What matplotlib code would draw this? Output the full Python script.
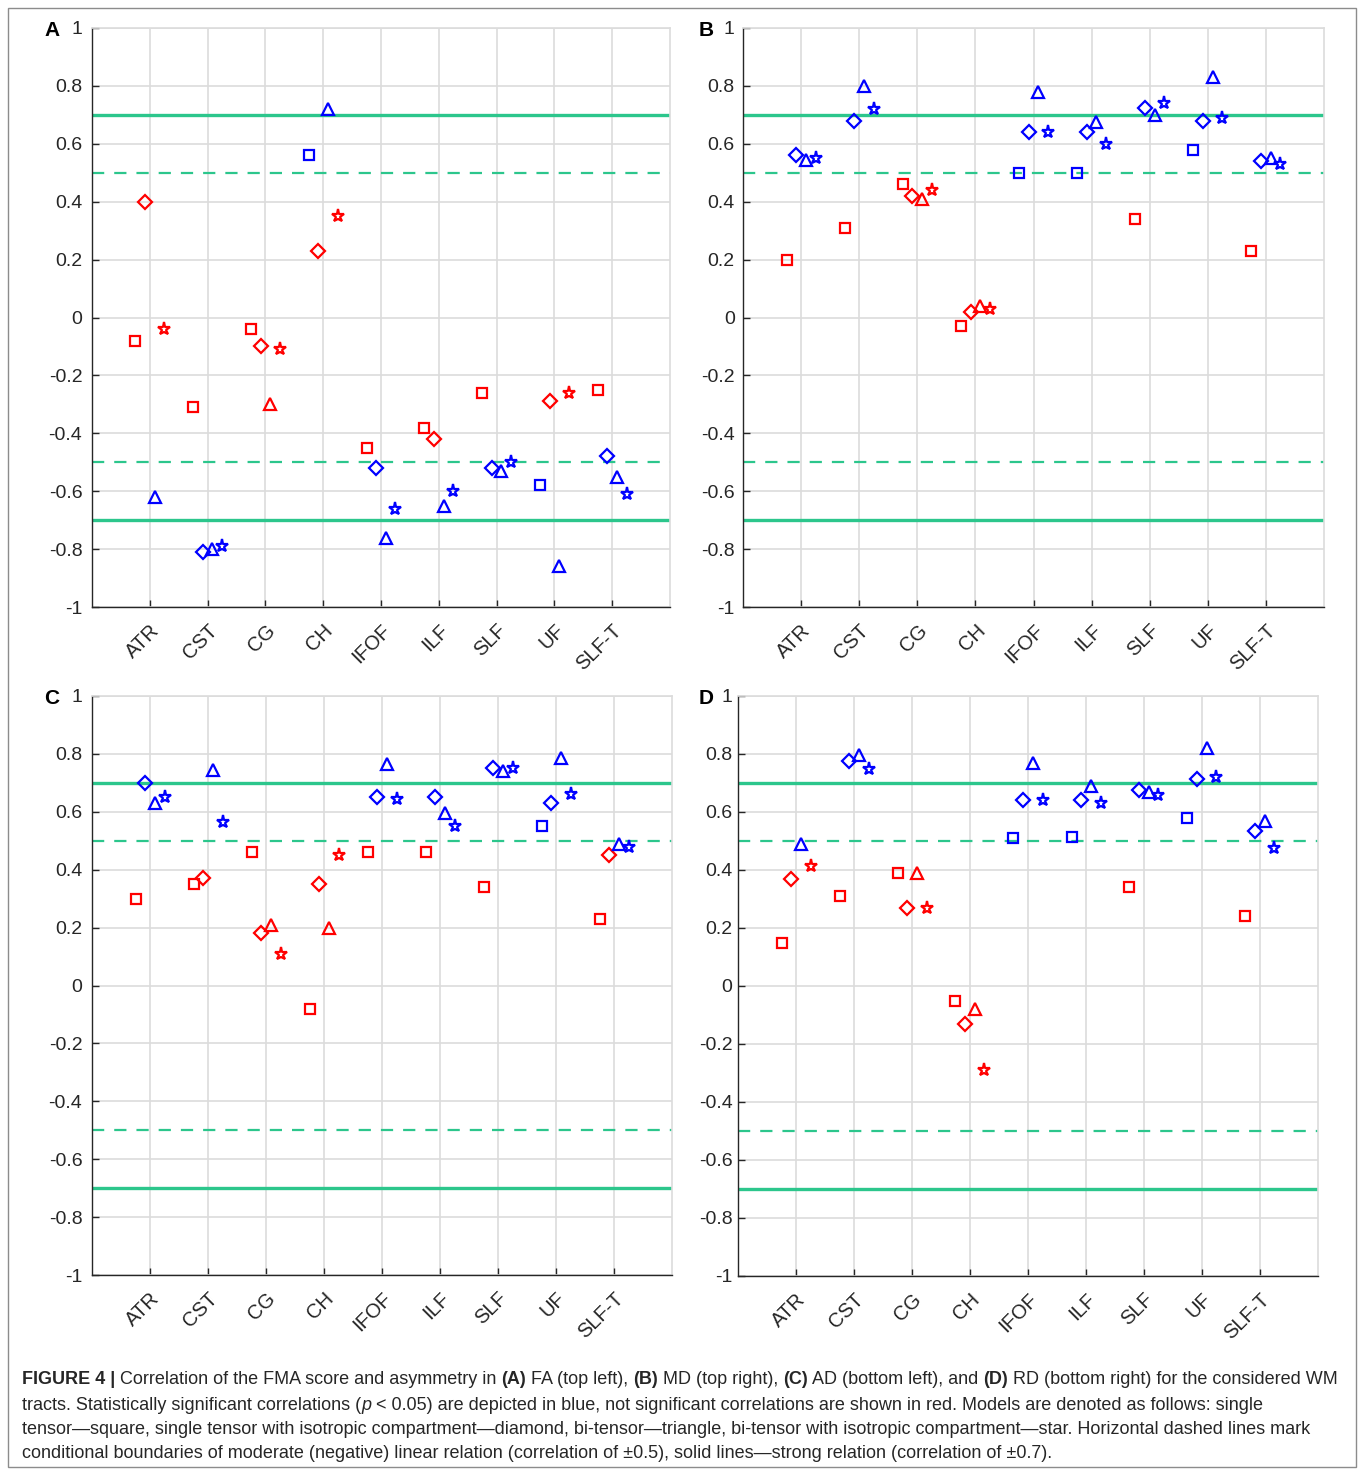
import matplotlib
matplotlib.use("Agg")
import matplotlib.pyplot as plt
from matplotlib import font_manager
from matplotlib.patches import Rectangle
import numpy as np

plt.rcParams['font.family'] = ['Liberation Sans', 'DejaVu Sans']
plt.rcParams['axes.unicode_minus'] = False

tracts = ['ATR', 'CST', 'CG', 'CH', 'IFOF', 'ILF', 'SLF', 'UF', 'SLF-T']
models = ['square', 'diamond', 'triangle', 'star']
model_offsets = [-0.25, -0.083, 0.083, 0.25]
model_markers = ['s', 'D', '^', '*']
model_sizes = [7, 6.8, 8, 9.5]

# Panel A: FA
fa_square   = [-0.08, -0.31, -0.04, 0.56, -0.45, -0.38, -0.26, -0.58, -0.25]
fa_diamond  = [0.40, -0.81, -0.10, 0.23, -0.52, -0.42, -0.52, -0.29, -0.48]
fa_triangle = [-0.62, -0.80, -0.30, 0.72, -0.76, -0.65, -0.53, -0.86, -0.55]
fa_star     = [-0.04, -0.79, -0.11, 0.35, -0.66, -0.60, -0.50, -0.26, -0.61]
fa_sig_square   = [0, 0, 0, 1, 0, 0, 0, 1, 0]
fa_sig_diamond  = [0, 1, 0, 0, 1, 0, 1, 0, 1]
fa_sig_triangle = [1, 1, 0, 1, 1, 1, 1, 1, 1]
fa_sig_star     = [0, 1, 0, 0, 1, 1, 1, 0, 1]

# Panel B: MD
md_square   = [0.20, 0.31, 0.46, -0.03, 0.50, 0.50, 0.34, 0.58, 0.23]
md_diamond  = [0.56, 0.68, 0.42, 0.02, 0.64, 0.64, 0.725, 0.68, 0.54]
md_triangle = [0.545, 0.80, 0.41, 0.04, 0.78, 0.675, 0.70, 0.83, 0.55]
md_star     = [0.55, 0.72, 0.44, 0.03, 0.64, 0.60, 0.74, 0.69, 0.53]
md_sig_square   = [0, 0, 0, 0, 1, 1, 0, 1, 0]
md_sig_diamond  = [1, 1, 0, 0, 1, 1, 1, 1, 1]
md_sig_triangle = [1, 1, 0, 0, 1, 1, 1, 1, 1]
md_sig_star     = [1, 1, 0, 0, 1, 1, 1, 1, 1]

# Panel C: AD
ad_square   = [0.30, 0.35, 0.46, -0.08, 0.46, 0.46, 0.34, 0.55, 0.23]
ad_diamond  = [0.70, 0.37, 0.18, 0.35, 0.65, 0.65, 0.75, 0.63, 0.45]
ad_triangle = [0.63, 0.745, 0.21, 0.20, 0.765, 0.595, 0.74, 0.785, 0.49]
ad_star     = [0.65, 0.565, 0.11, 0.45, 0.645, 0.55, 0.75, 0.66, 0.48]
ad_sig_square   = [0, 0, 0, 0, 0, 0, 0, 1, 0]
ad_sig_diamond  = [1, 0, 0, 0, 1, 1, 1, 1, 0]
ad_sig_triangle = [1, 1, 0, 0, 1, 1, 1, 1, 1]
ad_sig_star     = [1, 1, 0, 0, 1, 1, 1, 1, 1]

# Panel D: RD
rd_square   = [0.15, 0.31, 0.39, -0.05, 0.51, 0.515, 0.34, 0.58, 0.24]
rd_diamond  = [0.37, 0.775, 0.27, -0.13, 0.64, 0.64, 0.675, 0.715, 0.535]
rd_triangle = [0.49, 0.795, 0.39, -0.08, 0.77, 0.69, 0.67, 0.82, 0.57]
rd_star     = [0.415, 0.75, 0.27, -0.29, 0.64, 0.63, 0.66, 0.72, 0.475]
rd_sig_square   = [0, 0, 0, 0, 1, 1, 0, 1, 0]
rd_sig_diamond  = [0, 1, 0, 0, 1, 1, 1, 1, 1]
rd_sig_triangle = [1, 1, 0, 0, 1, 1, 1, 1, 1]
rd_sig_star     = [0, 1, 0, 0, 1, 1, 1, 1, 1]

yticks = [-1, -0.8, -0.6, -0.4, -0.2, 0, 0.2, 0.4, 0.6, 0.8, 1]
ytick_labels = ['-1', '-0.8', '-0.6', '-0.4', '-0.2', '0', '0.2', '0.4', '0.6', '0.8', '1']

panels = [
    ('A', [fa_square, fa_diamond, fa_triangle, fa_star],
     [fa_sig_square, fa_sig_diamond, fa_sig_triangle, fa_sig_star], (92, 670, 28, 607), 52, 7),
    ('B', [md_square, md_diamond, md_triangle, md_star],
     [md_sig_square, md_sig_diamond, md_sig_triangle, md_sig_star], (743, 1324, 28, 607), 706, 6),
    ('C', [ad_square, ad_diamond, ad_triangle, ad_star],
     [ad_sig_square, ad_sig_diamond, ad_sig_triangle, ad_sig_star], (92, 672, 696, 1275), 52, 7),
    ('D', [rd_square, rd_diamond, rd_triangle, rd_star],
     [rd_sig_square, rd_sig_diamond, rd_sig_triangle, rd_sig_star], (738, 1318, 696, 1276), 706, 4),
]

W, H = 1360, 1471
fig = plt.figure(figsize=(W / 100, H / 100), dpi=100)

GREEN = '#2cc68c'
GRID = '#dcdcdc'

for letter, values, sigs, (l, r, t, b), lx, ypad in panels:
    ax = fig.add_axes([l / W, 1 - b / H, (r - l) / W, (b - t) / H])
    ax.set_xlim(0, 10)
    ax.set_ylim(-1, 1)
    ax.set_xticks(np.arange(1, 10))
    ax.set_xticklabels(tracts, rotation=45, ha='right', va='top',
                       rotation_mode='anchor', fontsize=14.5)
    ax.set_yticks(yticks)
    ax.set_yticklabels(ytick_labels, fontsize=14)
    ax.tick_params(direction='in', length=5, width=1, color='#262626',
                   labelcolor='#262626')
    ax.tick_params(axis='y', pad=ypad)
    ax.tick_params(axis='x', pad=10)
    ax.grid(True, color=GRID, linewidth=1.2)
    ax.set_axisbelow(True)
    for side in ['top', 'right']:
        ax.spines[side].set_color(GRID)
        ax.spines[side].set_linewidth(1.2)
    for side in ['left', 'bottom']:
        ax.spines[side].set_color('#262626')
        ax.spines[side].set_linewidth(1.0)

    for yv in (0.7, -0.7):
        ax.axhline(yv, color=GREEN, linewidth=2.4, zorder=2)
    for yv in (0.5, -0.5):
        ax.axhline(yv, color=GREEN, linewidth=1.6, linestyle=(0, (5.5, 4.5)), zorder=2)

    x = np.arange(1, 10)
    for vals, sig, off, mk, ms in zip(values, sigs, model_offsets, model_markers, model_sizes):
        for xi, v, s in zip(x, vals, sig):
            col = '#0000ff' if s else '#ff0000'
            ax.plot(xi + off, v, marker=mk, markersize=ms, markerfacecolor='none',
                    markeredgecolor=col, markeredgewidth=1.6, linestyle='none', zorder=3)

    fig.text(lx / W, 1 - (t + 2) / H, letter, fontsize=15, fontweight='bold',
             ha='center', va='center', color='black')

# Outer border
fig.add_artist(Rectangle((8 / W, 1 - 1467 / H), (1356 - 8) / W, (1467 - 8) / H,
                         transform=fig.transFigure, fill=False,
                         edgecolor='#8c8c8c', linewidth=1.0))

# Caption with mixed styles
cap_lines = [
    [("FIGURE 4 |", 'bold', 'normal'), (" Correlation of the FMA score and asymmetry in ", 'normal', 'normal'),
     ("(A)", 'bold', 'normal'), (" FA (top left), ", 'normal', 'normal'),
     ("(B)", 'bold', 'normal'), (" MD (top right), ", 'normal', 'normal'),
     ("(C)", 'bold', 'normal'), (" AD (bottom left), and ", 'normal', 'normal'),
     ("(D)", 'bold', 'normal'), (" RD (bottom right) for the considered WM", 'normal', 'normal')],
    [("tracts. Statistically significant correlations (", 'normal', 'normal'), ("p", 'normal', 'italic'),
     (" < 0.05) are depicted in blue, not significant correlations are shown in red. Models are denoted as follows: single", 'normal', 'normal')],
    [("tensor\u2014square, single tensor with isotropic compartment\u2014diamond, bi-tensor\u2014triangle, bi-tensor with isotropic compartment\u2014star. Horizontal dashed lines mark", 'normal', 'normal')],
    [("conditional boundaries of moderate (negative) linear relation (correlation of \u00b10.5), solid lines\u2014strong relation (correlation of \u00b10.7).", 'normal', 'normal')],
]
cap_y = [1378, 1403, 1428, 1452]
cap_x0 = 22
cap_fs = 13.0
cap_family = ['Liberation Sans Narrow', 'Liberation Sans', 'DejaVu Sans']
available = {f.name for f in font_manager.fontManager.ttflist}
if 'Liberation Sans Narrow' in available:
    cap_fs = 13.2

renderer = fig.canvas.get_renderer()


def text_width(s, weight, style):
    # width of s including leading/trailing spaces
    t = fig.text(0, 0, "|" + s + "|", fontsize=cap_fs, fontweight=weight, fontstyle=style,
                 family=cap_family)
    w = t.get_window_extent(renderer).width
    t.remove()
    t2 = fig.text(0, 0, "||", fontsize=cap_fs, fontweight=weight, fontstyle=style,
                  family=cap_family)
    w2 = t2.get_window_extent(renderer).width
    t2.remove()
    return w - w2


for runs, yy in zip(cap_lines, cap_y):
    xx = cap_x0
    for s, wgt, sty in runs:
        fig.text(xx / W, 1 - yy / H, s, fontsize=cap_fs, fontweight=wgt, fontstyle=sty,
                 family=cap_family, ha='left', va='center_baseline', color='#262626')
        xx += text_width(s, wgt, sty)

fig.savefig('out.png', dpi=100)
